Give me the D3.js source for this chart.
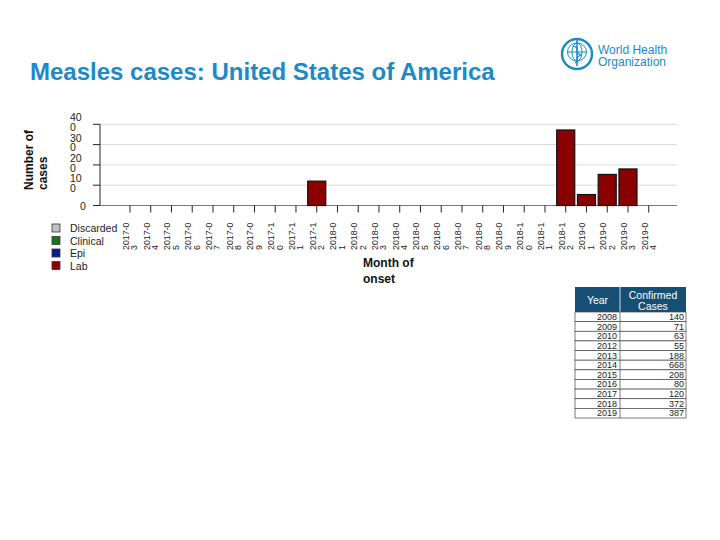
<!DOCTYPE html>
<html>
<head>
<meta charset="utf-8">
<script src="https://cdn.jsdelivr.net/npm/d3@7"></script>
<style>
  html, body { margin: 0; padding: 0; background: #fff; }
  svg { display: block; font-family: "Liberation Sans", Arial, sans-serif; }
</style>
</head>
<body>
<svg id="chart" width="720" height="540"></svg>
<script>
// ---- data ----
const months = ["2017-03","2017-04","2017-05","2017-06","2017-07","2017-08","2017-09","2017-10","2017-11","2017-12",
                "2018-01","2018-02","2018-03","2018-04","2018-05","2018-06","2018-07","2018-08","2018-09","2018-10","2018-11","2018-12",
                "2019-01","2019-02","2019-03","2019-04"];
const discarded = [0,0,0,0,0,0,0,0,0,0, 0,0,0,0,0,0,0,0,0,0,0,0, 0,0,0,0];
const clinical  = [0,0,0,0,0,0,0,0,0,0, 0,0,0,0,0,0,0,0,0,0,0,0, 0,0,0,0];
const epi       = [0,0,0,0,0,0,0,0,0,0, 0,0,0,0,0,0,0,0,0,0,0,0, 0,0,0,0];
const lab       = [0,0,0,0,0,0,0,0,0,120, 0,0,0,0,0,0,0,0,0,0,0,372, 54,153,180,0];
const seriesNames = ["Discarded","Clinical","Epi","Lab"];
const seriesColors = ["#c0c0c0","#16751c","#0c1a8f","#8b0000"];
const yTicks = [0,100,200,300,400];
const tableYears = ["2008","2009","2010","2012","2013","2014","2015","2016","2017","2018","2019"];
const tableCases = [140,71,63,55,188,668,208,80,120,372,387];

// ---- setup ----
const svg = d3.select("#chart");
const plotLeft = 100, plotRight = 677;
const x = d3.scaleBand().domain(months).range([119.6, 659.1]).paddingInner(0.13).paddingOuter(0.065);
const y = d3.scaleLinear().domain([0, 400]).range([205.5, 124.3]);

// title
svg.append("text").attr("x", 30).attr("y", 80)
  .attr("font-size", 24).attr("font-weight", "bold").attr("fill", "#1b8ac7")
  .text("Measles cases: United States of America");

// WHO logo (emblem + text)
const logo = svg.append("g").attr("fill", "none").attr("stroke", "#1b8ac7");
logo.append("circle").attr("cx", 577).attr("cy", 54).attr("r", 15).attr("stroke-width", 2.4);
logo.append("ellipse").attr("cx", 577).attr("cy", 52).attr("rx", 5).attr("ry", 9).attr("stroke-width", 1);
logo.append("ellipse").attr("cx", 577).attr("cy", 52).attr("rx", 9.5).attr("ry", 9).attr("stroke-width", 1);
logo.append("line").attr("x1", 568).attr("x2", 586).attr("y1", 52).attr("y2", 52).attr("stroke-width", 1);
logo.append("line").attr("x1", 577).attr("x2", 577).attr("y1", 40).attr("y2", 66).attr("stroke-width", 1.6);
logo.append("path").attr("d", "M573,46 C581,48 573,52 581,55 C573,58 581,60 575,63").attr("stroke-width", 1.2);
svg.append("text").attr("x", 598).attr("y", 53.5).attr("font-size", 12).attr("fill", "#1b8ac7").text("World Health");
svg.append("text").attr("x", 598).attr("y", 65.5).attr("font-size", 12).attr("fill", "#1b8ac7").text("Organization");

// gridlines
svg.append("g").selectAll("line").data(yTicks.filter(d => d > 0)).join("line")
  .attr("x1", plotLeft).attr("x2", plotRight)
  .attr("y1", d => y(d)).attr("y2", d => y(d))
  .attr("stroke", "#d9d9d9").attr("stroke-width", 1);

// y axis line and ticks
svg.append("line").attr("x1", plotLeft).attr("x2", plotLeft).attr("y1", y(400)).attr("y2", y(0))
  .attr("stroke", "#222").attr("stroke-width", 1);
svg.append("g").selectAll("line").data(yTicks).join("line")
  .attr("x1", plotLeft - 7).attr("x2", plotLeft)
  .attr("y1", d => y(d)).attr("y2", d => y(d))
  .attr("stroke", "#222");
// y tick labels (wrapped in 2-char chunks like the original)
const yl = svg.append("g").attr("font-size", 10.5).attr("fill", "#222");
yTicks.forEach(v => {
  const s = String(v);
  if (s.length > 2) {
    const t = yl.append("text").attr("x", 70).attr("y", y(v) - 3);
    t.append("tspan").attr("x", 70).text(s.slice(0, 2));
    t.append("tspan").attr("x", 70).attr("dy", 9.8).text(s.slice(2));
  } else {
    yl.append("text").attr("x", 80).attr("y", y(v) + 4).text(s);
  }
});

// x axis baseline
svg.append("line").attr("x1", plotLeft).attr("x2", plotRight).attr("y1", y(0)).attr("y2", y(0))
  .attr("stroke", "#777").attr("stroke-width", 1);

// bars (stacked)
const rows = months.map((m, i) => ({ month: m, Discarded: discarded[i], Clinical: clinical[i], Epi: epi[i], Lab: lab[i] }));
const stacked = d3.stack().keys(seriesNames)(rows);
svg.append("g").selectAll("g").data(stacked).join("g")
  .attr("fill", (d, i) => seriesColors[i])
  .selectAll("rect").data(d => d).join("rect")
  .attr("x", d => x(d.data.month))
  .attr("width", x.bandwidth())
  .attr("y", d => y(d[1]))
  .attr("height", d => y(d[0]) - y(d[1]))
  .attr("stroke", "#111").attr("stroke-width", 1.2);

// x ticks
svg.append("g").selectAll("line").data(months).join("line")
  .attr("x1", d => x(d) + x.bandwidth() / 2).attr("x2", d => x(d) + x.bandwidth() / 2)
  .attr("y1", y(0)).attr("y2", y(0) + 7)
  .attr("stroke", "#222");

// x tick labels: rotated, wrapped after 6 chars
const xl = svg.append("g").attr("font-size", 8.8).attr("fill", "#222");
months.forEach(m => {
  const cx = x(m) + x.bandwidth() / 2;
  xl.append("text").attr("transform", `translate(${cx - 1},250) rotate(-90)`).text(m.slice(0, 6));
  xl.append("text").attr("transform", `translate(${cx + 7.5},250) rotate(-90)`).text(m.slice(6));
});

// axis titles
const yt = svg.append("text").attr("transform", "translate(33,190) rotate(-90)")
  .attr("font-size", 12).attr("font-weight", "bold").attr("fill", "#111");
yt.append("tspan").attr("x", 0).attr("y", 0).text("Number of");
yt.append("tspan").attr("x", 0).attr("y", 14).text("cases");
const xt = svg.append("text").attr("font-size", 12).attr("font-weight", "bold").attr("fill", "#111");
xt.append("tspan").attr("x", 363).attr("y", 267).text("Month of");
xt.append("tspan").attr("x", 363).attr("y", 283).text("onset");

// legend
const lg = svg.append("g");
seriesNames.forEach((n, i) => {
  const cy = 228 + i * 12.5;
  lg.append("rect").attr("x", 52).attr("y", cy - 4).attr("width", 8).attr("height", 8)
    .attr("fill", seriesColors[i]).attr("stroke", "#333").attr("stroke-width", 0.8);
  lg.append("text").attr("x", 70).attr("y", cy + 4).attr("font-size", 10.5).attr("fill", "#222").text(n);
});

// table
const tX0 = 575, tX1 = 686, tXm = 620, tY0 = 287, tYh = 312, rowH = (418 - 312) / tableYears.length;
const tg = svg.append("g");
tg.append("rect").attr("x", tX0).attr("y", tY0).attr("width", tX1 - tX0).attr("height", tYh - tY0)
  .attr("fill", "#174e73");
tg.append("text").attr("x", (tX0 + tXm) / 2).attr("y", 303.5).attr("text-anchor", "middle")
  .attr("font-size", 10.5).attr("fill", "#fff").text("Year");
tg.append("text").attr("x", (tXm + tX1) / 2).attr("y", 298.5).attr("text-anchor", "middle")
  .attr("font-size", 10.5).attr("fill", "#fff").text("Confirmed");
tg.append("text").attr("x", (tXm + tX1) / 2).attr("y", 309.5).attr("text-anchor", "middle")
  .attr("font-size", 10.5).attr("fill", "#fff").text("Cases");
tg.append("line").attr("x1", tXm).attr("x2", tXm).attr("y1", tY0).attr("y2", tYh).attr("stroke", "#fff").attr("stroke-width", 0.8);
tableYears.forEach((yr, i) => {
  const ry = tYh + i * rowH;
  tg.append("rect").attr("x", tX0).attr("y", ry).attr("width", tX1 - tX0).attr("height", rowH)
    .attr("fill", "#fff").attr("stroke", "#444").attr("stroke-width", 0.7);
  tg.append("line").attr("x1", tXm).attr("x2", tXm).attr("y1", ry).attr("y2", ry + rowH).attr("stroke", "#444").attr("stroke-width", 0.7);
  tg.append("text").attr("x", 617).attr("y", ry + rowH - 1.6).attr("text-anchor", "end")
    .attr("font-size", 9).attr("fill", "#222").text(yr);
  tg.append("text").attr("x", 684).attr("y", ry + rowH - 1.6).attr("text-anchor", "end")
    .attr("font-size", 9).attr("fill", "#222").text(tableCases[i]);
});
</script>
</body>
</html>
